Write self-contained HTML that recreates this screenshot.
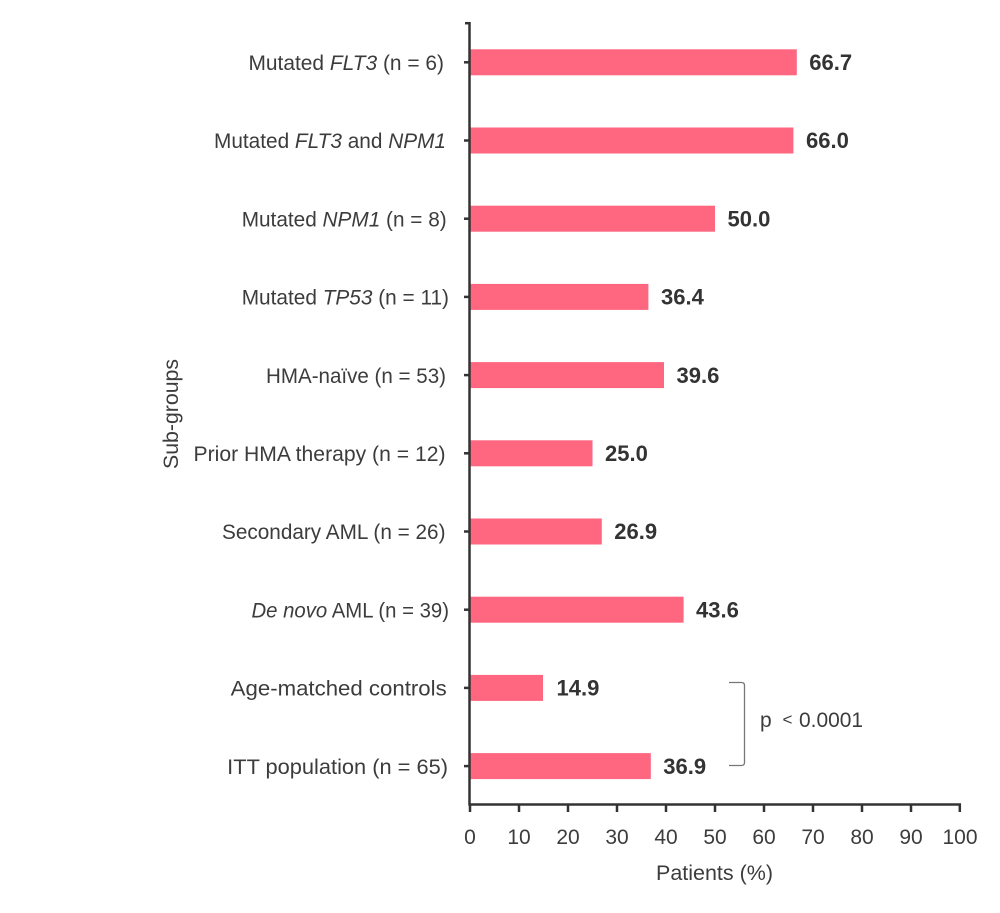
<!DOCTYPE html>
<html>
<head>
<meta charset="utf-8">
<style>
  html,body{margin:0;padding:0;background:#fff;}
  svg{display:block;}
  text{font-family:"Liberation Sans",sans-serif;fill:#3c3c3c;}
  .lbl{font-size:21px;text-anchor:end;}
  .val{font-size:22px;font-weight:bold;fill:#333;}
  .tick{font-size:21px;text-anchor:middle;}
  .it{font-style:italic;}
</style>
</head>
<body>
<svg width="1000" height="913" viewBox="0 0 1000 913" xmlns="http://www.w3.org/2000/svg">
  <rect width="1000" height="913" fill="#fff"/>

  <!-- bars -->
  <g fill="#ff6680">
    <rect x="470" y="49.3" width="326.8" height="26"/>
    <rect x="470" y="127.5" width="323.4" height="26"/>
    <rect x="470" y="205.7" width="245" height="26"/>
    <rect x="470" y="283.9" width="178.4" height="26"/>
    <rect x="470" y="362.1" width="194" height="26"/>
    <rect x="470" y="440.3" width="122.5" height="26"/>
    <rect x="470" y="518.5" width="131.8" height="26"/>
    <rect x="470" y="596.7" width="213.6" height="26"/>
    <rect x="470" y="674.9" width="73" height="26"/>
    <rect x="470" y="753.1" width="180.8" height="26"/>
  </g>

  <!-- axes -->
  <g stroke="#333" stroke-width="2.5" fill="none">
    <line x1="469.5" y1="22" x2="469.5" y2="805.5"/>
    <line x1="465" y1="23.2" x2="470" y2="23.2"/>
    <line x1="468.5" y1="804.5" x2="961" y2="804.5"/>
    <!-- y ticks -->
    <line x1="464" y1="62.3" x2="470" y2="62.3"/>
    <line x1="464" y1="140.5" x2="470" y2="140.5"/>
    <line x1="464" y1="218.7" x2="470" y2="218.7"/>
    <line x1="464" y1="296.9" x2="470" y2="296.9"/>
    <line x1="464" y1="375.1" x2="470" y2="375.1"/>
    <line x1="464" y1="453.3" x2="470" y2="453.3"/>
    <line x1="464" y1="531.5" x2="470" y2="531.5"/>
    <line x1="464" y1="609.7" x2="470" y2="609.7"/>
    <line x1="464" y1="687.9" x2="470" y2="687.9"/>
    <line x1="464" y1="766.1" x2="470" y2="766.1"/>
    <!-- x ticks -->
    <line x1="470" y1="804" x2="470" y2="812"/>
    <line x1="519" y1="804" x2="519" y2="812"/>
    <line x1="568" y1="804" x2="568" y2="812"/>
    <line x1="617" y1="804" x2="617" y2="812"/>
    <line x1="666" y1="804" x2="666" y2="812"/>
    <line x1="715" y1="804" x2="715" y2="812"/>
    <line x1="764" y1="804" x2="764" y2="812"/>
    <line x1="813" y1="804" x2="813" y2="812"/>
    <line x1="862" y1="804" x2="862" y2="812"/>
    <line x1="911" y1="804" x2="911" y2="812"/>
    <line x1="959.8" y1="804" x2="959.8" y2="812"/>
  </g>

  <!-- category labels -->
  <text class="lbl" x="444" y="70" textLength="195.5" lengthAdjust="spacingAndGlyphs">Mutated <tspan class="it">FLT3</tspan> (n = 6)</text>
  <text class="lbl" x="446" y="148.2" textLength="232" lengthAdjust="spacingAndGlyphs">Mutated <tspan class="it">FLT3</tspan> and <tspan class="it">NPM1</tspan></text>
  <text class="lbl" x="446.7" y="226.4" textLength="205" lengthAdjust="spacingAndGlyphs">Mutated <tspan class="it">NPM1</tspan> (n = 8)</text>
  <text class="lbl" x="449" y="304.6" textLength="207.3" lengthAdjust="spacingAndGlyphs">Mutated <tspan class="it">TP53</tspan> (n = 11)</text>
  <text class="lbl" x="446" y="382.8" textLength="180" lengthAdjust="spacingAndGlyphs">HMA-naïve (n = 53)</text>
  <text class="lbl" x="445.5" y="461" textLength="252" lengthAdjust="spacingAndGlyphs">Prior HMA therapy (n = 12)</text>
  <text class="lbl" x="445.5" y="539.2" textLength="223.5" lengthAdjust="spacingAndGlyphs">Secondary AML (n = 26)</text>
  <text class="lbl" x="449" y="617.4" textLength="197.5" lengthAdjust="spacingAndGlyphs"><tspan class="it">De novo</tspan> AML (n = 39)</text>
  <text class="lbl" x="446.7" y="695.6" textLength="216" lengthAdjust="spacingAndGlyphs">Age-matched controls</text>
  <text class="lbl" x="448" y="773.8" textLength="220.8" lengthAdjust="spacingAndGlyphs">ITT population (n = 65)</text>

  <!-- value labels -->
  <text class="val" x="809.3" y="70">66.7</text>
  <text class="val" x="806" y="148.2">66.0</text>
  <text class="val" x="727.5" y="226.4">50.0</text>
  <text class="val" x="661" y="304.6">36.4</text>
  <text class="val" x="676.5" y="382.8">39.6</text>
  <text class="val" x="605" y="461">25.0</text>
  <text class="val" x="614.3" y="539.2">26.9</text>
  <text class="val" x="696" y="617.4">43.6</text>
  <text class="val" x="556.5" y="695.6">14.9</text>
  <text class="val" x="663.3" y="773.8">36.9</text>

  <!-- x tick labels -->
  <text class="tick" x="470" y="844">0</text>
  <text class="tick" x="519" y="844">10</text>
  <text class="tick" x="568" y="844">20</text>
  <text class="tick" x="617" y="844">30</text>
  <text class="tick" x="666" y="844">40</text>
  <text class="tick" x="715" y="844">50</text>
  <text class="tick" x="764" y="844">60</text>
  <text class="tick" x="813" y="844">70</text>
  <text class="tick" x="862" y="844">80</text>
  <text class="tick" x="911" y="844">90</text>
  <text class="tick" x="960" y="844">100</text>

  <!-- axis titles -->
  <text x="714.5" y="880" font-size="21" text-anchor="middle" textLength="117" lengthAdjust="spacingAndGlyphs">Patients (%)</text>
  <text transform="translate(178,414) rotate(-90)" x="0" y="0" font-size="21" text-anchor="middle" textLength="110" lengthAdjust="spacingAndGlyphs">Sub-groups</text>

  <!-- significance bracket -->
  <path d="M729,682.5 L741.5,682.5 Q744.5,682.5 744.5,685.5 L744.5,762.5 Q744.5,765.5 741.5,765.5 L729,765.5" fill="none" stroke="#777" stroke-width="1.3"/>
  <text x="760" y="727" font-size="21">p</text>
  <text x="782.5" y="725" font-size="17">&lt;</text>
  <text x="799" y="727" font-size="21" textLength="64" lengthAdjust="spacingAndGlyphs">0.0001</text>
</svg>
</body>
</html>
